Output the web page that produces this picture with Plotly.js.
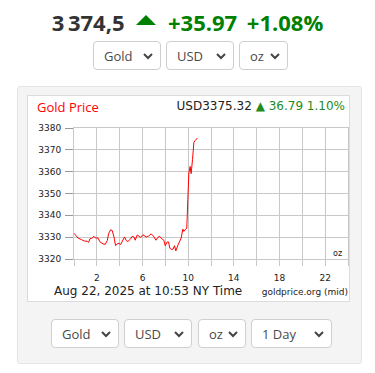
<!DOCTYPE html>
<html><head><meta charset="utf-8">
<script src="https://cdn.plot.ly/plotly-3.0.1.min.js"></script>
<style>
html,body{margin:0;padding:0;background:#fff;width:375px;height:373px;overflow:hidden;font-family:"Open Sans",sans-serif;}
.abs{position:absolute;}
.sel{position:absolute;box-sizing:border-box;border:1px solid #cfcfcf;border-radius:4px;background:#fff;font:13px "Open Sans",sans-serif;color:#4a4a4a;}
.sel span{position:absolute;left:10px;top:5px;}
.sel svg{position:absolute;right:7px;top:11px;}
#plot{position:absolute;left:0;top:0;width:375px;height:373px;}
</style></head>
<body>
<div class="abs" style="left:0;top:7px;width:375px;text-align:center;font:bold 22px 'Open Sans',sans-serif;white-space:nowrap;">
 <span style="color:#333;">3&#8201;374,5</span>
 <span style="display:inline-block;width:0;height:0;border-left:10px solid transparent;border-right:10px solid transparent;border-bottom:10px solid #008000;margin:0 6px 0 6px;vertical-align:6px;"></span>
 <span style="color:#008000;">+35.97</span>
 <span style="color:#008000;margin-left:4px;">+1.08%</span>
</div>
<div class="abs" style="left:17px;top:86px;width:345px;height:278px;box-sizing:border-box;background:#f4f4f4;border:1px solid #e4e4e4;border-radius:3px;"></div>
<div class="abs" style="left:27px;top:95px;width:323px;height:207px;box-sizing:border-box;background:#fff;border:1px solid #dcdcdc;"></div>
<div class="abs" style="left:37px;top:98px;font:13px 'Open Sans',sans-serif;color:#ff0000;">Gold Price</div>
<div class="abs" style="right:30px;top:99px;font:12px 'DejaVu Sans',sans-serif;white-space:nowrap;"><span style="color:#222;">USD3375.32</span> <span style="color:#228b22;">&#9650; 36.79 1.10%</span></div>
<div class="abs" style="left:54px;top:284px;font:12px 'DejaVu Sans',sans-serif;color:#222;white-space:nowrap;">Aug 22, 2025 at 10:53 NY Time</div>
<div class="abs" style="right:27px;top:287px;font:9px 'DejaVu Sans',sans-serif;color:#222;white-space:nowrap;">goldprice.org (mid)</div>
<div class="abs" style="left:333px;top:249px;font:8px 'DejaVu Sans',sans-serif;color:#222;">oz</div>
<div id="plot"></div>
<script>
// Intraday gold price (hours since midnight NY time, USD/oz)
var hours = [0,0.2,0.35,0.64,0.93,1.17,1.28,1.40,1.57,1.75,1.87,2.10,2.27,2.54,2.74,2.92,3.03,3.21,3.35,3.50,3.64,3.79,3.94,4.08,4.23,4.43,4.58,4.72,4.96,5.10,5.25,5.36,5.54,5.69,5.83,6.03,6.18,6.33,6.53,6.76,6.97,7.17,7.35,7.49,7.64,7.87,7.99,8.16,8.28,8.40,8.57,8.69,8.80,8.92,9.10,9.27,9.39,9.53,9.62,9.74,9.88,9.97,10.06,10.17,10.26,10.38,10.50,10.61,10.80];
var prices = [3331.8,3330.4,3329.6,3328.9,3328.2,3328.1,3327.6,3329.3,3329.5,3330.4,3329.6,3329.6,3327.9,3326.9,3326.7,3328.5,3331.6,3333.4,3333.0,3330.1,3326.1,3327.0,3327.2,3326.6,3328.1,3330.1,3328.4,3328.0,3329.2,3330.4,3330.1,3328.6,3331.0,3330.4,3329.9,3331.1,3330.4,3330.1,3330.5,3331.5,3330.4,3328.6,3329.9,3330.4,3329.5,3328.6,3326.1,3327.8,3327.8,3324.9,3324.3,3324.6,3326.1,3323.7,3326.3,3328.1,3329.6,3333.7,3332.6,3333.4,3334.2,3347.2,3359.4,3362.4,3359.1,3365.5,3373.4,3374.2,3375.4];
var xTickVals = [0,2,4,6,8,10,12,14,16,18,20,22,24];
var xTickText = ['','2','','6','','10','','14','','18','','22',''];
var yTickVals = [3320,3330,3340,3350,3360,3370,3380];
var topSelects = ['Gold','USD','oz'];
var bottomSelects = ['Gold','USD','oz','1 Day'];

function makeSel(label,x,y,w){
  var d=document.createElement('div');d.className='sel';
  d.style.left=x+'px';d.style.top=y+'px';d.style.width=w+'px';d.style.height='29px';
  d.innerHTML='<span>'+label+'</span><svg width="10" height="7"><polyline points="1,1 5,5 9,1" fill="none" stroke="#444" stroke-width="2"/></svg>';
  document.body.appendChild(d);
}
var tx=[93,166,239], tw=[68,68,49];
topSelects.forEach(function(s,i){makeSel(s,tx[i],41,tw[i]);});
var bx=[51,124,198,251], bw=[68,68,48,81];
bottomSelects.forEach(function(s,i){makeSel(s,bx[i],319,bw[i]);});

var gridc='#c8c8c8';
Plotly.newPlot('plot',[{
  x:hours,y:prices,type:'scatter',mode:'lines',
  line:{color:'#ff0000',width:1},hoverinfo:'none'
}],{
  width:375,height:373,
  margin:{l:74,r:27,t:128,b:114,pad:0},
  paper_bgcolor:'rgba(0,0,0,0)',plot_bgcolor:'rgba(0,0,0,0)',
  showlegend:false,
  xaxis:{range:[0,24],tickmode:'array',tickvals:xTickVals,ticktext:xTickText,
    showgrid:true,gridcolor:gridc,gridwidth:1,zeroline:false,
    ticks:'outside',ticklen:6,tickcolor:gridc,showline:true,mirror:true,linecolor:gridc,
    tickfont:{family:'DejaVu Sans',size:9,color:'#222'},ticklabelstandoff:4,fixedrange:true},
  yaxis:{range:[3320,3380],tickmode:'array',tickvals:yTickVals,
    showgrid:true,gridcolor:gridc,gridwidth:1,zeroline:false,
    ticks:'outside',ticklen:8,tickcolor:'#999',showline:true,mirror:true,linecolor:gridc,
    tickfont:{family:'DejaVu Sans',size:9,color:'#222'},ticklabelstandoff:2,fixedrange:true}
},{staticPlot:true,displayModeBar:false});
</script>
</body></html>
